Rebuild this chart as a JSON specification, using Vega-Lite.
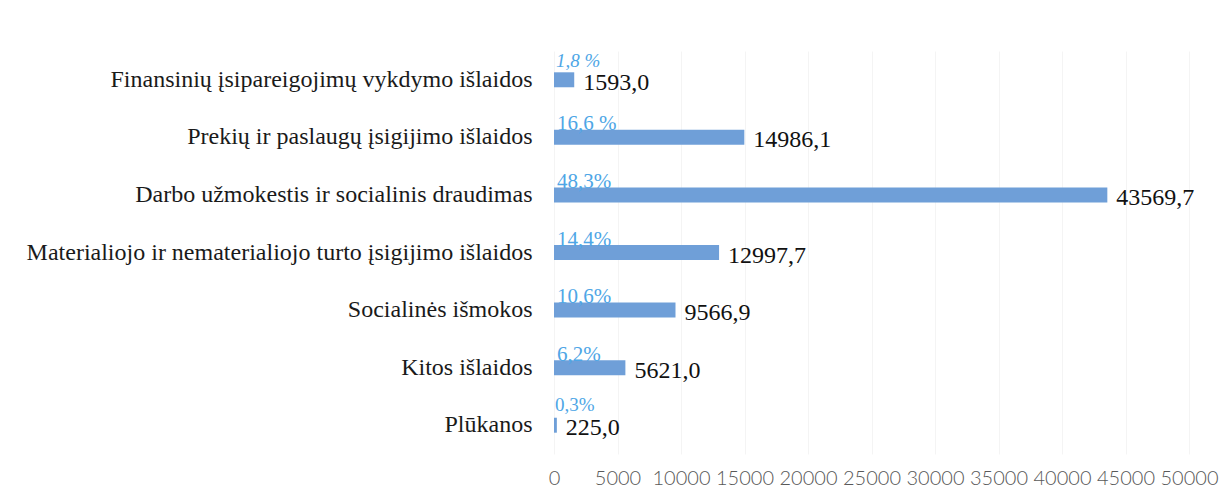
{
  "$schema": "https://vega.github.io/schema/vega-lite/v6.json",
  "width": 635,
  "height": 403,
  "autosize": {"type": "none"},
  "padding": {"left": 554, "top": 51, "right": 32, "bottom": 36},
  "background": "white",
  "config": {"view": {"stroke": null}},
  "data": {
    "values": [
      {"kategorija": "Finansinių įsipareigojimų vykdymo išlaidos", "suma": 1593.0, "tekstas": "1593,0", "dalis": "1,8 %"},
      {"kategorija": "Prekių ir paslaugų įsigijimo išlaidos", "suma": 14986.1, "tekstas": "14986,1", "dalis": "16,6 %"},
      {"kategorija": "Darbo užmokestis ir socialinis draudimas", "suma": 43569.7, "tekstas": "43569,7", "dalis": "48,3%"},
      {"kategorija": "Materialiojo ir nematerialiojo turto įsigijimo išlaidos", "suma": 12997.7, "tekstas": "12997,7", "dalis": "14,4%"},
      {"kategorija": "Socialinės išmokos", "suma": 9566.9, "tekstas": "9566,9", "dalis": "10,6%"},
      {"kategorija": "Kitos išlaidos", "suma": 5621.0, "tekstas": "5621,0", "dalis": "6,2%"},
      {"kategorija": "Plūkanos", "suma": 225.0, "tekstas": "225,0", "dalis": "0,3%"}
    ]
  },
  "encoding": {
    "y": {
      "field": "kategorija",
      "type": "nominal",
      "sort": null,
      "scale": {"paddingInner": 0.74, "paddingOuter": 0.37},
      "axis": {
        "title": null,
        "domain": false,
        "ticks": false,
        "labelPadding": 22,
        "labelFont": "Liberation Serif",
        "labelFontSize": 24,
        "labelColor": "#1a1a1a",
        "labelLimit": 600
      }
    },
    "x": {
      "field": "suma",
      "type": "quantitative",
      "scale": {"domain": [0, 50000], "nice": false},
      "axis": {
        "title": null,
        "values": [0, 5000, 10000, 15000, 20000, 25000, 30000, 35000, 40000, 45000, 50000],
        "format": "d",
        "labelOverlap": false,
        "labelFlush": false,
        "domain": false,
        "ticks": false,
        "grid": true,
        "gridColor": "#f4f4f4",
        "gridWidth": 1,
        "labelPadding": 14,
        "labelFont": "Lato",
        "labelFontSize": 20,
        "labelFontWeight": 300,
        "labelColor": "#595959"
      }
    }
  },
  "layer": [
    {
      "mark": {"type": "bar", "color": "#6f9fd8"}
    },
    {
      "mark": {"type": "text", "align": "left", "baseline": "middle", "dx": 9, "dy": 3, "font": "Liberation Serif", "fontSize": 24, "color": "#111111"},
      "encoding": {"text": {"field": "tekstas"}}
    },
    {
      "transform": [{"filter": "datum.suma >= 2000"}],
      "mark": {"type": "text", "align": "left", "baseline": "alphabetic", "dx": 3, "dy": -7, "font": "Liberation Serif", "fontSize": 21, "color": "#4ea6e6"},
      "encoding": {"x": {"datum": 0}, "text": {"field": "dalis"}}
    },
    {
      "transform": [{"filter": "datum.suma < 2000 && datum.suma >= 1000"}],
      "mark": {"type": "text", "align": "left", "baseline": "alphabetic", "dx": 2, "dy": -13, "font": "Liberation Serif", "fontSize": 19, "fontStyle": "italic", "color": "#4ea6e6"},
      "encoding": {"x": {"datum": 0}, "text": {"field": "dalis"}}
    },
    {
      "transform": [{"filter": "datum.suma < 1000"}],
      "mark": {"type": "text", "align": "left", "baseline": "alphabetic", "dx": 1, "dy": -14, "font": "Liberation Serif", "fontSize": 19, "color": "#4ea6e6"},
      "encoding": {"x": {"datum": 0}, "text": {"field": "dalis"}}
    }
  ]
}
